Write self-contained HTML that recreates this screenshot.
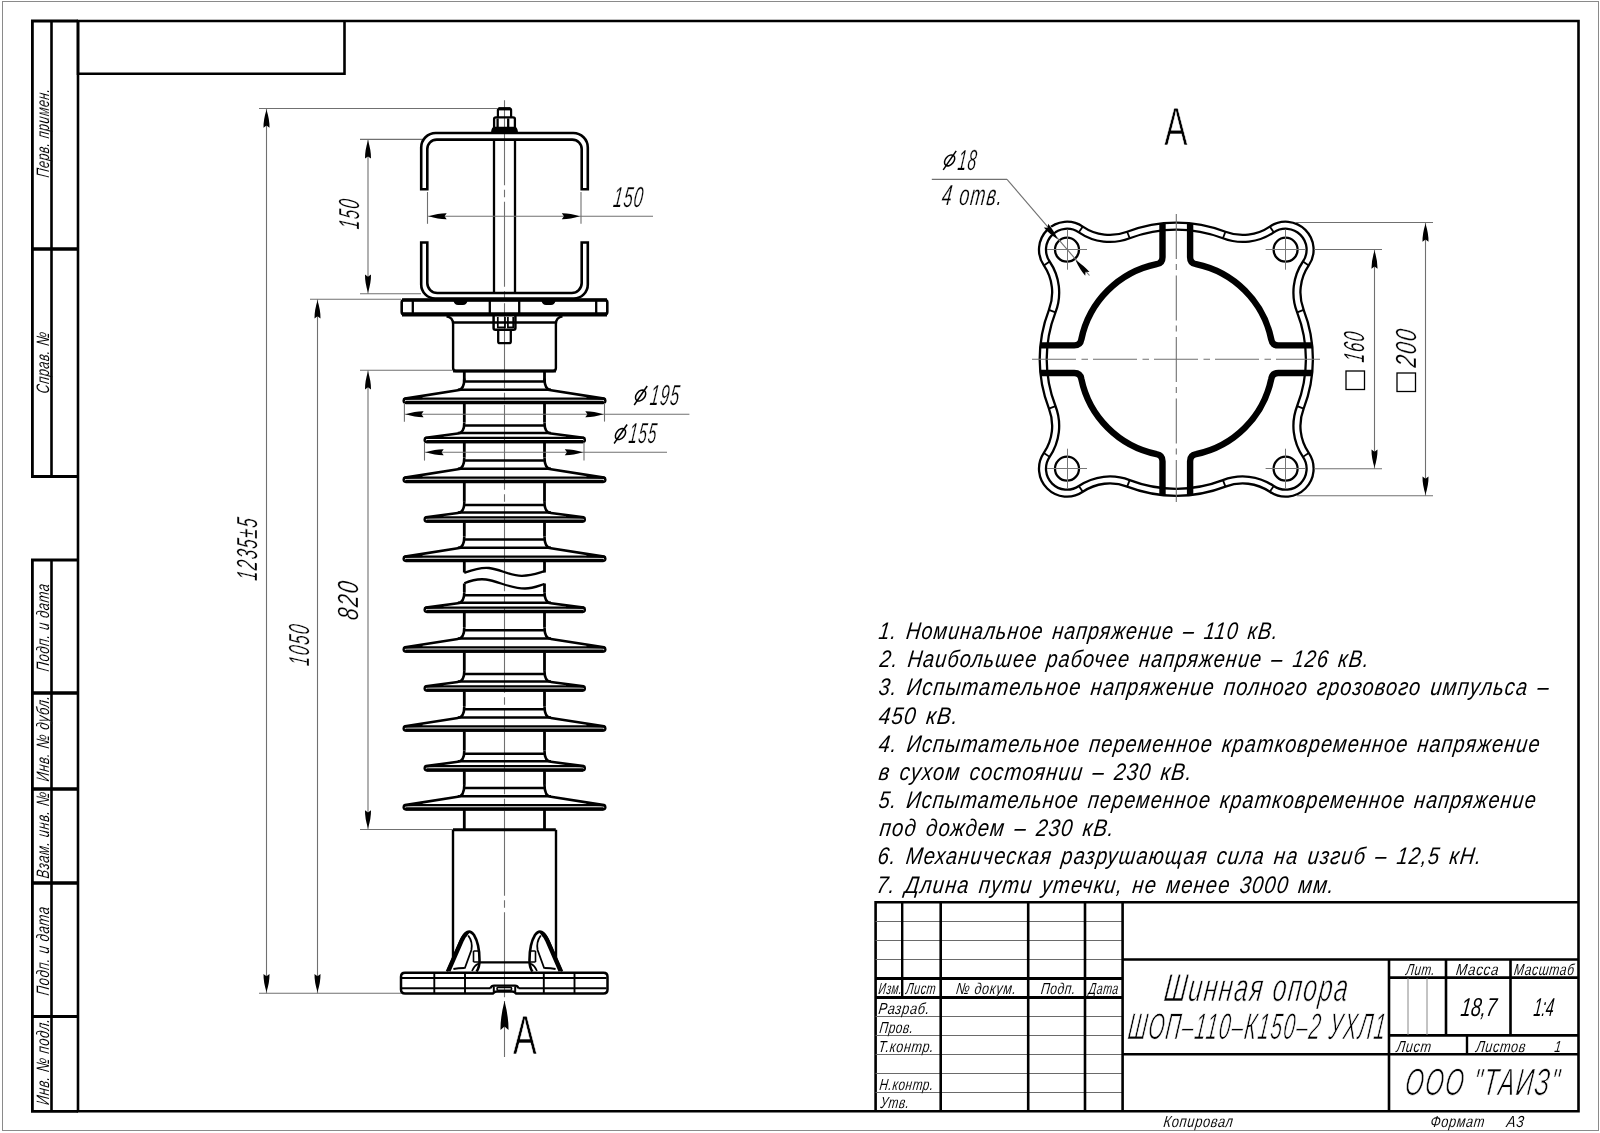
<!DOCTYPE html>
<html><head><meta charset="utf-8"><style>
html,body{margin:0;padding:0;background:#fff;width:1600px;height:1133px;overflow:hidden}
svg{display:block;will-change:transform}
text{font-family:"Liberation Sans",sans-serif;font-style:italic;fill:#000}
</style></head><body>
<svg width="1600" height="1133" viewBox="0 0 1600 1133">
<rect x="2.5" y="1.5" width="1596" height="1129" fill="none" stroke="#8a8a8a" stroke-width="1"/>
<path d="M78 21 H1578.5 V1111.3 H78 Z" stroke="#000" stroke-width="2.6" fill="none" />
<path d="M78 21 V73.8 H344.5 V21" stroke="#000" stroke-width="2.6" fill="none" />
<path d="M78 21 H32.4 V249 H78" stroke="#000" stroke-width="2.8" fill="none" />
<path d="M78 249 H32.4 V476.5 H78" stroke="#000" stroke-width="2.8" fill="none" />
<line x1="51.5" y1="21" x2="51.5" y2="476.5" stroke="#000" stroke-width="2.6" />
<path d="M78 560 H32.4 V693 H78" stroke="#000" stroke-width="2.8" fill="none" />
<path d="M78 693 H32.4 V789 H78" stroke="#000" stroke-width="2.8" fill="none" />
<path d="M78 789 H32.4 V883 H78" stroke="#000" stroke-width="2.8" fill="none" />
<path d="M78 883 H32.4 V1016.5 H78" stroke="#000" stroke-width="2.8" fill="none" />
<path d="M78 1016.5 H32.4 V1111.3 H78" stroke="#000" stroke-width="2.8" fill="none" />
<line x1="51.5" y1="560" x2="51.5" y2="1111.3" stroke="#000" stroke-width="2.6" />
<text x="48.60" y="178.00" font-size="18" text-anchor="start" textLength="89.11" lengthAdjust="spacingAndGlyphs" transform="rotate(-90 48.60 178.00) translate(48.60 178.00) skewX(-7.0) translate(-48.60 -178.00)" stroke="#fff" stroke-width="0.05"  letter-spacing="0.8">Перв. примен.</text>
<text x="48.60" y="394.00" font-size="18" text-anchor="start" textLength="62.02" lengthAdjust="spacingAndGlyphs" transform="rotate(-90 48.60 394.00) translate(48.60 394.00) skewX(-7.0) translate(-48.60 -394.00)" stroke="#fff" stroke-width="0.05"  letter-spacing="0.8">Справ. №</text>
<text x="48.60" y="672.00" font-size="18" text-anchor="start" textLength="88.01" lengthAdjust="spacingAndGlyphs" transform="rotate(-90 48.60 672.00) translate(48.60 672.00) skewX(-7.0) translate(-48.60 -672.00)" stroke="#fff" stroke-width="0.05"  letter-spacing="0.8">Подп. и дата</text>
<text x="48.60" y="782.00" font-size="18" text-anchor="start" textLength="86.11" lengthAdjust="spacingAndGlyphs" transform="rotate(-90 48.60 782.00) translate(48.60 782.00) skewX(-7.0) translate(-48.60 -782.00)" stroke="#fff" stroke-width="0.05"  letter-spacing="0.8">Инв. № дубл.</text>
<text x="48.60" y="879.00" font-size="18" text-anchor="start" textLength="87.01" lengthAdjust="spacingAndGlyphs" transform="rotate(-90 48.60 879.00) translate(48.60 879.00) skewX(-7.0) translate(-48.60 -879.00)" stroke="#fff" stroke-width="0.05"  letter-spacing="0.8">Взам. инв. №</text>
<text x="48.60" y="996.00" font-size="18" text-anchor="start" textLength="89.01" lengthAdjust="spacingAndGlyphs" transform="rotate(-90 48.60 996.00) translate(48.60 996.00) skewX(-7.0) translate(-48.60 -996.00)" stroke="#fff" stroke-width="0.05"  letter-spacing="0.8">Подп. и дата</text>
<text x="48.60" y="1105.50" font-size="18" text-anchor="start" textLength="86.62" lengthAdjust="spacingAndGlyphs" transform="rotate(-90 48.60 1105.50) translate(48.60 1105.50) skewX(-7.0) translate(-48.60 -1105.50)" stroke="#fff" stroke-width="0.05"  letter-spacing="0.8">Инв. № подл.</text>
<path d="M875.6 1111.3 V902.2 H1578.5" stroke="#000" stroke-width="2.6" fill="none" />
<line x1="875.6" y1="921.5" x2="1122.6" y2="921.5" stroke="#6a6a6a" stroke-width="1.1" />
<line x1="875.6" y1="940.5" x2="1122.6" y2="940.5" stroke="#6a6a6a" stroke-width="1.1" />
<line x1="875.6" y1="959.5" x2="1122.6" y2="959.5" stroke="#6a6a6a" stroke-width="1.1" />
<line x1="875.6" y1="978.4" x2="1122.6" y2="978.4" stroke="#000" stroke-width="3.0" />
<line x1="875.6" y1="997.5" x2="1122.6" y2="997.5" stroke="#000" stroke-width="3.0" />
<line x1="875.6" y1="1016.5" x2="1122.6" y2="1016.5" stroke="#6a6a6a" stroke-width="1.1" />
<line x1="875.6" y1="1035.5" x2="1122.6" y2="1035.5" stroke="#6a6a6a" stroke-width="1.1" />
<line x1="875.6" y1="1054.5" x2="1122.6" y2="1054.5" stroke="#6a6a6a" stroke-width="1.1" />
<line x1="875.6" y1="1073.5" x2="1122.6" y2="1073.5" stroke="#6a6a6a" stroke-width="1.1" />
<line x1="875.6" y1="1092.5" x2="1122.6" y2="1092.5" stroke="#6a6a6a" stroke-width="1.1" />
<line x1="940.7" y1="902.2" x2="940.7" y2="1111.3" stroke="#000" stroke-width="2.6" />
<line x1="1028.2" y1="902.2" x2="1028.2" y2="1111.3" stroke="#000" stroke-width="2.6" />
<line x1="1085.0" y1="902.2" x2="1085.0" y2="1111.3" stroke="#000" stroke-width="2.6" />
<line x1="1122.6" y1="902.2" x2="1122.6" y2="1111.3" stroke="#000" stroke-width="2.6" />
<line x1="902.2" y1="902.2" x2="902.2" y2="997.5" stroke="#000" stroke-width="2.4" />
<line x1="1122.6" y1="959.5" x2="1578.5" y2="959.5" stroke="#000" stroke-width="2.6" />
<line x1="1122.6" y1="1054.3" x2="1578.5" y2="1054.3" stroke="#000" stroke-width="2.6" />
<line x1="1389" y1="959.5" x2="1389" y2="1111.3" stroke="#000" stroke-width="2.6" />
<line x1="1389" y1="977.6" x2="1578.5" y2="977.6" stroke="#000" stroke-width="2.6" />
<line x1="1389" y1="1035.4" x2="1578.5" y2="1035.4" stroke="#000" stroke-width="2.6" />
<line x1="1446" y1="959.5" x2="1446" y2="1035.4" stroke="#000" stroke-width="2.6" />
<line x1="1510.5" y1="959.5" x2="1510.5" y2="1035.4" stroke="#000" stroke-width="2.6" />
<line x1="1408" y1="978" x2="1408" y2="1035" stroke="#888" stroke-width="1" />
<line x1="1427" y1="978" x2="1427" y2="1035" stroke="#888" stroke-width="1" />
<line x1="1467" y1="1035.4" x2="1467" y2="1054.3" stroke="#000" stroke-width="2.4" />
<text x="878.10" y="994.30" font-size="16" text-anchor="start" textLength="23.75" lengthAdjust="spacingAndGlyphs" transform="translate(878.10 994.30) skewX(-7.0) translate(-878.10 -994.30)" stroke="#fff" stroke-width="0.05"  letter-spacing="0.8">Изм.</text>
<text x="905.60" y="994.30" font-size="16" text-anchor="start" textLength="30.05" lengthAdjust="spacingAndGlyphs" transform="translate(905.60 994.30) skewX(-7.0) translate(-905.60 -994.30)" stroke="#fff" stroke-width="0.05"  letter-spacing="0.8">Лист</text>
<text x="955.60" y="994.30" font-size="16" text-anchor="start" textLength="60.56" lengthAdjust="spacingAndGlyphs" transform="translate(955.60 994.30) skewX(-7.0) translate(-955.60 -994.30)" stroke="#fff" stroke-width="0.05"  letter-spacing="0.8">№ докум.</text>
<text x="1040.40" y="994.30" font-size="16" text-anchor="start" textLength="35.09" lengthAdjust="spacingAndGlyphs" transform="translate(1040.40 994.30) skewX(-7.0) translate(-1040.40 -994.30)" stroke="#fff" stroke-width="0.05"  letter-spacing="0.8">Подп.</text>
<text x="1088.30" y="994.30" font-size="16" text-anchor="start" textLength="29.93" lengthAdjust="spacingAndGlyphs" transform="translate(1088.30 994.30) skewX(-7.0) translate(-1088.30 -994.30)" stroke="#fff" stroke-width="0.05"  letter-spacing="0.8">Дата</text>
<text x="878.00" y="1013.80" font-size="16" text-anchor="start" textLength="51.46" lengthAdjust="spacingAndGlyphs" transform="translate(878.00 1013.80) skewX(-7.0) translate(-878.00 -1013.80)" stroke="#fff" stroke-width="0.05"  letter-spacing="0.8">Разраб.</text>
<text x="879.00" y="1032.60" font-size="16" text-anchor="start" textLength="34.16" lengthAdjust="spacingAndGlyphs" transform="translate(879.00 1032.60) skewX(-7.0) translate(-879.00 -1032.60)" stroke="#fff" stroke-width="0.05"  letter-spacing="0.8">Пров.</text>
<text x="878.00" y="1051.90" font-size="16" text-anchor="start" textLength="55.70" lengthAdjust="spacingAndGlyphs" transform="translate(878.00 1051.90) skewX(-7.0) translate(-878.00 -1051.90)" stroke="#fff" stroke-width="0.05"  letter-spacing="0.8">Т.контр.</text>
<text x="879.00" y="1089.60" font-size="16" text-anchor="start" textLength="54.33" lengthAdjust="spacingAndGlyphs" transform="translate(879.00 1089.60) skewX(-7.0) translate(-879.00 -1089.60)" stroke="#fff" stroke-width="0.05"  letter-spacing="0.8">Н.контр.</text>
<text x="880.00" y="1108.50" font-size="16" text-anchor="start" textLength="29.12" lengthAdjust="spacingAndGlyphs" transform="translate(880.00 1108.50) skewX(-7.0) translate(-880.00 -1108.50)" stroke="#fff" stroke-width="0.05"  letter-spacing="0.8">Утв.</text>
<text x="1163.00" y="1001.50" font-size="39" text-anchor="start" textLength="185.03" lengthAdjust="spacingAndGlyphs" transform="translate(1163.00 1001.50) skewX(-7.0) translate(-1163.00 -1001.50)" stroke="#fff" stroke-width="0.75" letter-spacing="2.5">Шинная опора</text>
<text x="1127.00" y="1039.00" font-size="37" text-anchor="start" textLength="258.52" lengthAdjust="spacingAndGlyphs" transform="translate(1127.00 1039.00) skewX(-7.0) translate(-1127.00 -1039.00)" stroke="#fff" stroke-width="0.75" letter-spacing="2.5">ШОП–110–К150–2 УХЛ1</text>
<text x="1405.50" y="975.40" font-size="16" text-anchor="start" textLength="29.32" lengthAdjust="spacingAndGlyphs" transform="translate(1405.50 975.40) skewX(-7.0) translate(-1405.50 -975.40)" stroke="#fff" stroke-width="0.05"  letter-spacing="0.8">Лит.</text>
<text x="1455.50" y="975.40" font-size="16" text-anchor="start" textLength="43.15" lengthAdjust="spacingAndGlyphs" transform="translate(1455.50 975.40) skewX(-7.0) translate(-1455.50 -975.40)" stroke="#fff" stroke-width="0.05"  letter-spacing="0.8">Масса</text>
<text x="1513.50" y="975.40" font-size="16" text-anchor="start" textLength="60.54" lengthAdjust="spacingAndGlyphs" transform="translate(1513.50 975.40) skewX(-7.0) translate(-1513.50 -975.40)" stroke="#fff" stroke-width="0.05"  letter-spacing="0.8">Масштаб</text>
<text x="1460.00" y="1016.50" font-size="26" text-anchor="start" textLength="35.63" lengthAdjust="spacingAndGlyphs" transform="translate(1460.00 1016.50) skewX(-7.0) translate(-1460.00 -1016.50)" stroke="#fff" stroke-width="0.0" >18,7</text>
<text x="1533.00" y="1016.50" font-size="26" text-anchor="start" textLength="20.05" lengthAdjust="spacingAndGlyphs" transform="translate(1533.00 1016.50) skewX(-7.0) translate(-1533.00 -1016.50)" stroke="#fff" stroke-width="0.0" >1:4</text>
<text x="1396.00" y="1051.60" font-size="16" text-anchor="start" textLength="35.03" lengthAdjust="spacingAndGlyphs" transform="translate(1396.00 1051.60) skewX(-7.0) translate(-1396.00 -1051.60)" stroke="#fff" stroke-width="0.05"  letter-spacing="0.8">Лист</text>
<text x="1475.50" y="1051.60" font-size="16" text-anchor="start" textLength="50.06" lengthAdjust="spacingAndGlyphs" transform="translate(1475.50 1051.60) skewX(-7.0) translate(-1475.50 -1051.60)" stroke="#fff" stroke-width="0.05"  letter-spacing="0.8">Листов</text>
<text x="1554.00" y="1051.60" font-size="16" text-anchor="start" textLength="7.20" lengthAdjust="spacingAndGlyphs" transform="translate(1554.00 1051.60) skewX(-7.0) translate(-1554.00 -1051.60)" stroke="#fff" stroke-width="0.05"  letter-spacing="0.8">1</text>
<text x="1404.00" y="1095.40" font-size="38" text-anchor="start" textLength="155.54" lengthAdjust="spacingAndGlyphs" transform="translate(1404.00 1095.40) skewX(-7.0) translate(-1404.00 -1095.40)" stroke="#fff" stroke-width="0.75" letter-spacing="2.5">ООО "ТАИЗ"</text>
<text x="1163.00" y="1127.50" font-size="16" text-anchor="start" textLength="70.01" lengthAdjust="spacingAndGlyphs" transform="translate(1163.00 1127.50) skewX(-7.0) translate(-1163.00 -1127.50)" stroke="#fff" stroke-width="0.05"  letter-spacing="0.8">Копировал</text>
<text x="1430.00" y="1127.50" font-size="16" text-anchor="start" textLength="54.58" lengthAdjust="spacingAndGlyphs" transform="translate(1430.00 1127.50) skewX(-7.0) translate(-1430.00 -1127.50)" stroke="#fff" stroke-width="0.05"  letter-spacing="0.8">Формат</text>
<text x="1506.00" y="1127.50" font-size="16" text-anchor="start" textLength="18.06" lengthAdjust="spacingAndGlyphs" transform="translate(1506.00 1127.50) skewX(-7.0) translate(-1506.00 -1127.50)" stroke="#fff" stroke-width="0.05"  letter-spacing="0.8">А3</text>
<text x="878.00" y="639.20" font-size="24" text-anchor="start" textLength="400.04" lengthAdjust="spacingAndGlyphs" transform="translate(878.00 639.20) skewX(-7.0) translate(-878.00 -639.20)" stroke="#fff" stroke-width="0.0" word-spacing="3" letter-spacing="1.3">1. Номинальное напряжение – 110 кВ.</text>
<text x="879.00" y="667.35" font-size="24" text-anchor="start" textLength="490.02" lengthAdjust="spacingAndGlyphs" transform="translate(879.00 667.35) skewX(-7.0) translate(-879.00 -667.35)" stroke="#fff" stroke-width="0.0" word-spacing="3" letter-spacing="1.3">2. Наибольшее рабочее напряжение – 126 кВ.</text>
<text x="878.00" y="695.50" font-size="24" text-anchor="start" textLength="670.91" lengthAdjust="spacingAndGlyphs" transform="translate(878.00 695.50) skewX(-7.0) translate(-878.00 -695.50)" stroke="#fff" stroke-width="0.0" word-spacing="3" letter-spacing="1.3">3. Испытательное напряжение полного грозового импульса –</text>
<text x="878.00" y="723.65" font-size="24" text-anchor="start" textLength="80.22" lengthAdjust="spacingAndGlyphs" transform="translate(878.00 723.65) skewX(-7.0) translate(-878.00 -723.65)" stroke="#fff" stroke-width="0.0" word-spacing="3" letter-spacing="1.3">450 кВ.</text>
<text x="878.00" y="751.80" font-size="24" text-anchor="start" textLength="661.91" lengthAdjust="spacingAndGlyphs" transform="translate(878.00 751.80) skewX(-7.0) translate(-878.00 -751.80)" stroke="#fff" stroke-width="0.0" word-spacing="3" letter-spacing="1.3">4. Испытательное переменное кратковременное напряжение</text>
<text x="878.00" y="779.95" font-size="24" text-anchor="start" textLength="313.97" lengthAdjust="spacingAndGlyphs" transform="translate(878.00 779.95) skewX(-7.0) translate(-878.00 -779.95)" stroke="#fff" stroke-width="0.0" word-spacing="3" letter-spacing="1.3">в сухом состоянии – 230 кВ.</text>
<text x="878.00" y="808.10" font-size="24" text-anchor="start" textLength="658.01" lengthAdjust="spacingAndGlyphs" transform="translate(878.00 808.10) skewX(-7.0) translate(-878.00 -808.10)" stroke="#fff" stroke-width="0.0" word-spacing="3" letter-spacing="1.3">5. Испытательное переменное кратковременное напряжение</text>
<text x="879.00" y="836.25" font-size="24" text-anchor="start" textLength="235.09" lengthAdjust="spacingAndGlyphs" transform="translate(879.00 836.25) skewX(-7.0) translate(-879.00 -836.25)" stroke="#fff" stroke-width="0.0" word-spacing="3" letter-spacing="1.3">под дождем – 230 кВ.</text>
<text x="877.00" y="864.40" font-size="24" text-anchor="start" textLength="604.56" lengthAdjust="spacingAndGlyphs" transform="translate(877.00 864.40) skewX(-7.0) translate(-877.00 -864.40)" stroke="#fff" stroke-width="0.0" word-spacing="3" letter-spacing="1.3">6. Механическая разрушающая сила на изгиб – 12,5 кН.</text>
<text x="876.00" y="892.55" font-size="24" text-anchor="start" textLength="458.10" lengthAdjust="spacingAndGlyphs" transform="translate(876.00 892.55) skewX(-7.0) translate(-876.00 -892.55)" stroke="#fff" stroke-width="0.0" word-spacing="3" letter-spacing="1.3">7. Длина пути утечки, не менее 3000 мм.</text>
<line x1="504.5" y1="100.2" x2="504.5" y2="1000" stroke="#707070" stroke-width="1.1" stroke-dasharray="85 4.5 7.5 4.5"/>
<path d="M497.9 117 V110.2 Q497.9 108.7 499.5 108.7 H509.6 Q511.1 108.7 511.1 110.2 V117" stroke="#000" stroke-width="2.2" fill="none" />
<line x1="498.5" y1="108.8" x2="510.5" y2="108.8" stroke="#000" stroke-width="3.2" />
<path d="M494.1 127.5 V119 Q494.1 117.3 496 117.3 H513 Q514.9 117.3 514.9 119 V127.5" stroke="#000" stroke-width="2.3" fill="none" />
<line x1="497.6" y1="118.4" x2="497.6" y2="127" stroke="#000" stroke-width="2.3" />
<line x1="508.2" y1="118.4" x2="508.2" y2="127" stroke="#000" stroke-width="2.3" />
<path d="M491 133.6 Q491 128.6 493.5 126.8 H515.5 Q518 128.6 518 133.6 Z" fill="#000"/>
<path d="M421.2 189.3 V147.5 A14.5 14.5 0 0 1 435.7 133 H573.3 A14.5 14.5 0 0 1 587.8 147.5 V189.3 H581.7 V149 A9.4 9.4 0 0 0 572.3 139.6 H436.7 A9.4 9.4 0 0 0 427.3 149 V189.3 Z" stroke="#000" stroke-width="2.6" fill="none" />
<path d="M421.2 242.5 V284.5 A14 14 0 0 0 435.2 298.5 H573.8 A14 14 0 0 0 587.8 284.5 V242.5 H581.7 V283 A10 10 0 0 1 571.7 293 H437.3 A10 10 0 0 1 427.3 283 V242.5 Z" stroke="#000" stroke-width="2.6" fill="none" />
<line x1="494" y1="139.4" x2="494" y2="293" stroke="#000" stroke-width="2.3" />
<line x1="515" y1="139.4" x2="515" y2="293" stroke="#000" stroke-width="2.3" />
<path d="M404 300 H605 Q607.3 300 607.3 302.3 V312.1 Q607.3 314.4 605 314.4 H404 Q401.7 314.4 401.7 312.1 V302.3 Q401.7 300 404 300 Z" stroke="#000" stroke-width="2.6" fill="none" />
<line x1="402" y1="300" x2="607" y2="300" stroke="#000" stroke-width="3.6" />
<line x1="402" y1="314.4" x2="607" y2="314.4" stroke="#000" stroke-width="4.2" />
<line x1="412.8" y1="301" x2="412.8" y2="313" stroke="#000" stroke-width="2.3" />
<line x1="596.2" y1="301" x2="596.2" y2="313" stroke="#000" stroke-width="2.3" />
<line x1="489.8" y1="301" x2="489.8" y2="313" stroke="#000" stroke-width="2.3" />
<line x1="519.2" y1="301" x2="519.2" y2="313" stroke="#000" stroke-width="2.3" />
<path d="M453.5 301 Q454.5 305 458 305 H463 Q466.5 305 467.5 301 Z" fill="#000"/>
<path d="M541.5 301 Q542.5 305 546 305 H551 Q554.5 305 555.5 301 Z" fill="#000"/>
<path d="M493.6 316 V328 Q493.6 329.8 495.4 329.8 H513.6 Q515.4 329.8 515.4 328 V316" stroke="#000" stroke-width="2.5" fill="none" />
<path d="M497.8 317 V327.4 H505 V317" stroke="#000" stroke-width="1.7" fill="none" />
<path d="M507.9 317 V327.4 H513.2 V317" stroke="#000" stroke-width="1.7" fill="none" />
<path d="M498.2 329.8 V341.5 Q498.2 343.2 500 343.2 H509 Q510.8 343.2 510.8 341.5 V329.8" stroke="#000" stroke-width="2.3" fill="none" />
<path d="M446.5 316.4 Q453.1 317.5 453.1 324 V368 Q453.1 371 456 371 H553 Q555.9 371 555.9 368 V324 Q555.9 317.5 562.5 316.4" stroke="#000" stroke-width="2.4" fill="none" />
<line x1="453.1" y1="322.5" x2="555.9" y2="322.5" stroke="#000" stroke-width="2.3" />
<line x1="453.1" y1="371" x2="555.9" y2="371" stroke="#000" stroke-width="3.2" />
<path d="M464.3 378.45 Q464.3 389.7 457.8 390.3 L405.0 398.59999999999997 Q403.5 399.0 403.8 401.2 Q404.1 402.8 406.5 402.8 H602.5 Q604.9 402.8 605.2 401.2 Q605.5 399.0 604.0 398.59999999999997 L551.0 390.3 Q544.5 389.7 544.5 378.45" stroke="#000" stroke-width="2.6" fill="none" />
<line x1="464.3" y1="381.45" x2="544.5" y2="381.45" stroke="#000" stroke-width="2.5" />
<line x1="457.8" y1="389.7" x2="551.0" y2="389.7" stroke="#000" stroke-width="2.5" />
<path d="M404.5 399.0 L422.5 396.2 L422.5 399.2 L404.5 399.8 Z" fill="#000"/>
<path d="M604.5 399.0 L586.5 396.2 L586.5 399.2 L604.5 399.8 Z" fill="#000"/>
<line x1="404.5" y1="398.7" x2="604.5" y2="398.7" stroke="#000" stroke-width="2.3" />
<line x1="405.5" y1="402.5" x2="603.5" y2="402.5" stroke="#000" stroke-width="3.3" />
<path d="M464.3 422.4 Q464.3 432.9 457.8 433.5 L426.0 437.79999999999995 Q424.5 438.2 424.8 440.4 Q425.1 442.0 427.5 442.0 H582.0 Q584.4 442.0 584.7 440.4 Q585.0 438.2 583.5 437.79999999999995 L551.0 433.5 Q544.5 432.9 544.5 422.4" stroke="#000" stroke-width="2.6" fill="none" />
<line x1="464.3" y1="425.4" x2="544.5" y2="425.4" stroke="#000" stroke-width="2.5" />
<line x1="457.8" y1="432.9" x2="551.0" y2="432.9" stroke="#000" stroke-width="2.5" />
<path d="M425.5 438.2 L443.5 435.4 L443.5 438.4 L425.5 439.0 Z" fill="#000"/>
<path d="M584.0 438.2 L566.0 435.4 L566.0 438.4 L584.0 439.0 Z" fill="#000"/>
<line x1="425.5" y1="437.9" x2="584.0" y2="437.9" stroke="#000" stroke-width="2.3" />
<line x1="426.5" y1="441.7" x2="583.0" y2="441.7" stroke="#000" stroke-width="3.3" />
<path d="M464.3 457.45 Q464.3 468.7 457.8 469.3 L405.0 477.59999999999997 Q403.5 478.0 403.8 480.2 Q404.1 481.8 406.5 481.8 H602.5 Q604.9 481.8 605.2 480.2 Q605.5 478.0 604.0 477.59999999999997 L551.0 469.3 Q544.5 468.7 544.5 457.45" stroke="#000" stroke-width="2.6" fill="none" />
<line x1="464.3" y1="460.45" x2="544.5" y2="460.45" stroke="#000" stroke-width="2.5" />
<line x1="457.8" y1="468.7" x2="551.0" y2="468.7" stroke="#000" stroke-width="2.5" />
<path d="M404.5 478.0 L422.5 475.2 L422.5 478.2 L404.5 478.8 Z" fill="#000"/>
<path d="M604.5 478.0 L586.5 475.2 L586.5 478.2 L604.5 478.8 Z" fill="#000"/>
<line x1="404.5" y1="477.7" x2="604.5" y2="477.7" stroke="#000" stroke-width="2.3" />
<line x1="405.5" y1="481.5" x2="603.5" y2="481.5" stroke="#000" stroke-width="3.3" />
<path d="M464.3 501.9 Q464.3 512.4 457.8 513.0 L426.0 517.3 Q424.5 517.6999999999999 424.8 519.9 Q425.1 521.5 427.5 521.5 H582.0 Q584.4 521.5 584.7 519.9 Q585.0 517.6999999999999 583.5 517.3 L551.0 513.0 Q544.5 512.4 544.5 501.9" stroke="#000" stroke-width="2.6" fill="none" />
<line x1="464.3" y1="504.9" x2="544.5" y2="504.9" stroke="#000" stroke-width="2.5" />
<line x1="457.8" y1="512.4" x2="551.0" y2="512.4" stroke="#000" stroke-width="2.5" />
<path d="M425.5 517.6999999999999 L443.5 514.9 L443.5 517.9 L425.5 518.5 Z" fill="#000"/>
<path d="M584.0 517.6999999999999 L566.0 514.9 L566.0 517.9 L584.0 518.5 Z" fill="#000"/>
<line x1="425.5" y1="517.4" x2="584.0" y2="517.4" stroke="#000" stroke-width="2.3" />
<line x1="426.5" y1="521.1999999999999" x2="583.0" y2="521.1999999999999" stroke="#000" stroke-width="3.3" />
<path d="M464.3 536.45 Q464.3 547.7 457.8 548.3000000000001 L405.0 556.6 Q403.5 557.0 403.8 559.2 Q404.1 560.8000000000001 406.5 560.8000000000001 H602.5 Q604.9 560.8000000000001 605.2 559.2 Q605.5 557.0 604.0 556.6 L551.0 548.3000000000001 Q544.5 547.7 544.5 536.45" stroke="#000" stroke-width="2.6" fill="none" />
<line x1="464.3" y1="539.45" x2="544.5" y2="539.45" stroke="#000" stroke-width="2.5" />
<line x1="457.8" y1="547.7" x2="551.0" y2="547.7" stroke="#000" stroke-width="2.5" />
<path d="M404.5 557.0 L422.5 554.2 L422.5 557.2 L404.5 557.8000000000001 Z" fill="#000"/>
<path d="M604.5 557.0 L586.5 554.2 L586.5 557.2 L604.5 557.8000000000001 Z" fill="#000"/>
<line x1="404.5" y1="556.7" x2="604.5" y2="556.7" stroke="#000" stroke-width="2.3" />
<line x1="405.5" y1="560.5" x2="603.5" y2="560.5" stroke="#000" stroke-width="3.3" />
<path d="M464.3 592.2 Q464.3 602.7 457.8 603.3000000000001 L426.0 607.6 Q424.5 608.0 424.8 610.2 Q425.1 611.8000000000001 427.5 611.8000000000001 H582.0 Q584.4 611.8000000000001 584.7 610.2 Q585.0 608.0 583.5 607.6 L551.0 603.3000000000001 Q544.5 602.7 544.5 592.2" stroke="#000" stroke-width="2.6" fill="none" />
<line x1="464.3" y1="595.2" x2="544.5" y2="595.2" stroke="#000" stroke-width="2.5" />
<line x1="457.8" y1="602.7" x2="551.0" y2="602.7" stroke="#000" stroke-width="2.5" />
<path d="M425.5 608.0 L443.5 605.2 L443.5 608.2 L425.5 608.8000000000001 Z" fill="#000"/>
<path d="M584.0 608.0 L566.0 605.2 L566.0 608.2 L584.0 608.8000000000001 Z" fill="#000"/>
<line x1="425.5" y1="607.7" x2="584.0" y2="607.7" stroke="#000" stroke-width="2.3" />
<line x1="426.5" y1="611.5" x2="583.0" y2="611.5" stroke="#000" stroke-width="3.3" />
<path d="M464.3 627.15 Q464.3 638.4 457.8 639.0 L405.0 647.3 Q403.5 647.6999999999999 403.8 649.9 Q404.1 651.5 406.5 651.5 H602.5 Q604.9 651.5 605.2 649.9 Q605.5 647.6999999999999 604.0 647.3 L551.0 639.0 Q544.5 638.4 544.5 627.15" stroke="#000" stroke-width="2.6" fill="none" />
<line x1="464.3" y1="630.15" x2="544.5" y2="630.15" stroke="#000" stroke-width="2.5" />
<line x1="457.8" y1="638.4" x2="551.0" y2="638.4" stroke="#000" stroke-width="2.5" />
<path d="M404.5 647.6999999999999 L422.5 644.9 L422.5 647.9 L404.5 648.5 Z" fill="#000"/>
<path d="M604.5 647.6999999999999 L586.5 644.9 L586.5 647.9 L604.5 648.5 Z" fill="#000"/>
<line x1="404.5" y1="647.4" x2="604.5" y2="647.4" stroke="#000" stroke-width="2.3" />
<line x1="405.5" y1="651.1999999999999" x2="603.5" y2="651.1999999999999" stroke="#000" stroke-width="3.3" />
<path d="M464.3 670.9 Q464.3 681.4 457.8 682.0 L426.0 686.3 Q424.5 686.6999999999999 424.8 688.9 Q425.1 690.5 427.5 690.5 H582.0 Q584.4 690.5 584.7 688.9 Q585.0 686.6999999999999 583.5 686.3 L551.0 682.0 Q544.5 681.4 544.5 670.9" stroke="#000" stroke-width="2.6" fill="none" />
<line x1="464.3" y1="673.9" x2="544.5" y2="673.9" stroke="#000" stroke-width="2.5" />
<line x1="457.8" y1="681.4" x2="551.0" y2="681.4" stroke="#000" stroke-width="2.5" />
<path d="M425.5 686.6999999999999 L443.5 683.9 L443.5 686.9 L425.5 687.5 Z" fill="#000"/>
<path d="M584.0 686.6999999999999 L566.0 683.9 L566.0 686.9 L584.0 687.5 Z" fill="#000"/>
<line x1="425.5" y1="686.4" x2="584.0" y2="686.4" stroke="#000" stroke-width="2.3" />
<line x1="426.5" y1="690.1999999999999" x2="583.0" y2="690.1999999999999" stroke="#000" stroke-width="3.3" />
<path d="M464.3 706.15 Q464.3 717.4 457.8 718.0 L405.0 726.3 Q403.5 726.6999999999999 403.8 728.9 Q404.1 730.5 406.5 730.5 H602.5 Q604.9 730.5 605.2 728.9 Q605.5 726.6999999999999 604.0 726.3 L551.0 718.0 Q544.5 717.4 544.5 706.15" stroke="#000" stroke-width="2.6" fill="none" />
<line x1="464.3" y1="709.15" x2="544.5" y2="709.15" stroke="#000" stroke-width="2.5" />
<line x1="457.8" y1="717.4" x2="551.0" y2="717.4" stroke="#000" stroke-width="2.5" />
<path d="M404.5 726.6999999999999 L422.5 723.9 L422.5 726.9 L404.5 727.5 Z" fill="#000"/>
<path d="M604.5 726.6999999999999 L586.5 723.9 L586.5 726.9 L604.5 727.5 Z" fill="#000"/>
<line x1="404.5" y1="726.4" x2="604.5" y2="726.4" stroke="#000" stroke-width="2.3" />
<line x1="405.5" y1="730.1999999999999" x2="603.5" y2="730.1999999999999" stroke="#000" stroke-width="3.3" />
<path d="M464.3 750.7 Q464.3 761.2 457.8 761.8000000000001 L426.0 766.1 Q424.5 766.5 424.8 768.7 Q425.1 770.3000000000001 427.5 770.3000000000001 H582.0 Q584.4 770.3000000000001 584.7 768.7 Q585.0 766.5 583.5 766.1 L551.0 761.8000000000001 Q544.5 761.2 544.5 750.7" stroke="#000" stroke-width="2.6" fill="none" />
<line x1="464.3" y1="753.7" x2="544.5" y2="753.7" stroke="#000" stroke-width="2.5" />
<line x1="457.8" y1="761.2" x2="551.0" y2="761.2" stroke="#000" stroke-width="2.5" />
<path d="M425.5 766.5 L443.5 763.7 L443.5 766.7 L425.5 767.3000000000001 Z" fill="#000"/>
<path d="M584.0 766.5 L566.0 763.7 L566.0 766.7 L584.0 767.3000000000001 Z" fill="#000"/>
<line x1="425.5" y1="766.2" x2="584.0" y2="766.2" stroke="#000" stroke-width="2.3" />
<line x1="426.5" y1="770.0" x2="583.0" y2="770.0" stroke="#000" stroke-width="3.3" />
<path d="M464.3 784.95 Q464.3 796.2 457.8 796.8000000000001 L405.0 805.1 Q403.5 805.5 403.8 807.7 Q404.1 809.3000000000001 406.5 809.3000000000001 H602.5 Q604.9 809.3000000000001 605.2 807.7 Q605.5 805.5 604.0 805.1 L551.0 796.8000000000001 Q544.5 796.2 544.5 784.95" stroke="#000" stroke-width="2.6" fill="none" />
<line x1="464.3" y1="787.95" x2="544.5" y2="787.95" stroke="#000" stroke-width="2.5" />
<line x1="457.8" y1="796.2" x2="551.0" y2="796.2" stroke="#000" stroke-width="2.5" />
<path d="M404.5 805.5 L422.5 802.7 L422.5 805.7 L404.5 806.3000000000001 Z" fill="#000"/>
<path d="M604.5 805.5 L586.5 802.7 L586.5 805.7 L604.5 806.3000000000001 Z" fill="#000"/>
<line x1="404.5" y1="805.2" x2="604.5" y2="805.2" stroke="#000" stroke-width="2.3" />
<line x1="405.5" y1="809.0" x2="603.5" y2="809.0" stroke="#000" stroke-width="3.3" />
<line x1="464.3" y1="371" x2="464.3" y2="381.5" stroke="#000" stroke-width="2.8" />
<line x1="544.5" y1="371" x2="544.5" y2="381.5" stroke="#000" stroke-width="2.8" />
<line x1="464.3" y1="403.7" x2="464.3" y2="422.4" stroke="#000" stroke-width="2.8" />
<line x1="544.5" y1="403.7" x2="544.5" y2="422.4" stroke="#000" stroke-width="2.8" />
<line x1="464.3" y1="442.9" x2="464.3" y2="457.45" stroke="#000" stroke-width="2.8" />
<line x1="544.5" y1="442.9" x2="544.5" y2="457.45" stroke="#000" stroke-width="2.8" />
<line x1="464.3" y1="482.7" x2="464.3" y2="501.9" stroke="#000" stroke-width="2.8" />
<line x1="544.5" y1="482.7" x2="544.5" y2="501.9" stroke="#000" stroke-width="2.8" />
<line x1="464.3" y1="522.4" x2="464.3" y2="536.45" stroke="#000" stroke-width="2.8" />
<line x1="544.5" y1="522.4" x2="544.5" y2="536.45" stroke="#000" stroke-width="2.8" />
<line x1="464.3" y1="561.7" x2="464.3" y2="572.5" stroke="#000" stroke-width="2.8" />
<line x1="544.5" y1="561.7" x2="544.5" y2="572.5" stroke="#000" stroke-width="2.8" />
<line x1="464.3" y1="583.5" x2="464.3" y2="592.2" stroke="#000" stroke-width="2.8" />
<line x1="544.5" y1="583.5" x2="544.5" y2="592.2" stroke="#000" stroke-width="2.8" />
<line x1="464.3" y1="612.7" x2="464.3" y2="627.15" stroke="#000" stroke-width="2.8" />
<line x1="544.5" y1="612.7" x2="544.5" y2="627.15" stroke="#000" stroke-width="2.8" />
<line x1="464.3" y1="652.4" x2="464.3" y2="670.9" stroke="#000" stroke-width="2.8" />
<line x1="544.5" y1="652.4" x2="544.5" y2="670.9" stroke="#000" stroke-width="2.8" />
<line x1="464.3" y1="691.4" x2="464.3" y2="706.15" stroke="#000" stroke-width="2.8" />
<line x1="544.5" y1="691.4" x2="544.5" y2="706.15" stroke="#000" stroke-width="2.8" />
<line x1="464.3" y1="731.4" x2="464.3" y2="750.7" stroke="#000" stroke-width="2.8" />
<line x1="544.5" y1="731.4" x2="544.5" y2="750.7" stroke="#000" stroke-width="2.8" />
<line x1="464.3" y1="771.2" x2="464.3" y2="784.95" stroke="#000" stroke-width="2.8" />
<line x1="544.5" y1="771.2" x2="544.5" y2="784.95" stroke="#000" stroke-width="2.8" />
<line x1="464.3" y1="809.5" x2="464.3" y2="831" stroke="#000" stroke-width="2.8" />
<line x1="544.5" y1="809.5" x2="544.5" y2="831" stroke="#000" stroke-width="2.8" />
<path d="M464.3 572.8 C472 570 480 567 489 568 C500 569 510 576 522 575.8 C532 575.5 538 573 544.5 571.2" stroke="#000" stroke-width="2.3" fill="none" />
<path d="M464.3 583.3 C472 580 478 578.5 486 579.5 C498 581 510 588.5 525 588.5 C533 588.5 538 586 544.5 584" stroke="#000" stroke-width="2.3" fill="none" />
<path d="M447 971.5 L460.5 941 Q467.5 926 474 935 Q479.5 944 479.5 960 Q479.5 968 476.5 971.5" stroke="#000" stroke-width="2.6" fill="none" />
<path d="M448.5 971 L462 940 Q466 932 468.5 934" stroke="#000" stroke-width="4.2" fill="none" />
<path d="M468.2 935.5 Q473 942 471.4 950 L464.7 968.5" stroke="#000" stroke-width="1.8" fill="none" />
<path d="M453.4 969 Q458 968.2 464.7 968" stroke="#000" stroke-width="1.8" fill="none" />
<path d="M473.5 951 H478.5 M473.5 962 H478.5 M473.5 951 V962" stroke="#000" stroke-width="1.6" fill="none" />
<path d="M478 963.8 Q474 966 472 971" stroke="#000" stroke-width="1.6" fill="none" />
<path d="M562.0 971.5 L548.5 941 Q541.5 926 535.0 935 Q529.5 944 529.5 960 Q529.5 968 532.5 971.5" stroke="#000" stroke-width="2.6" fill="none" />
<path d="M560.5 971 L547.0 940 Q543.0 932 540.5 934" stroke="#000" stroke-width="4.2" fill="none" />
<path d="M540.8 935.5 Q536.0 942 537.6 950 L544.3 968.5" stroke="#000" stroke-width="1.8" fill="none" />
<path d="M555.6 969 Q551.0 968.2 544.3 968" stroke="#000" stroke-width="1.8" fill="none" />
<path d="M535.5 951 H530.5 M535.5 962 H530.5 M535.5 951 V962" stroke="#000" stroke-width="1.6" fill="none" />
<path d="M531.0 963.8 Q535.0 966 537.0 971" stroke="#000" stroke-width="1.6" fill="none" />
<line x1="453" y1="829.8" x2="555.8" y2="829.8" stroke="#000" stroke-width="3" />
<line x1="453" y1="829.8" x2="453" y2="961" stroke="#000" stroke-width="2.4" />
<line x1="556" y1="829.8" x2="556" y2="961" stroke="#000" stroke-width="2.4" />
<line x1="479.5" y1="962.3" x2="529.5" y2="962.3" stroke="#000" stroke-width="2.2" />
<path d="M405 972.8 H603.5 Q607.5 972.8 607.5 976.8 V989.4 Q607.5 993.4 603.5 993.4 H516 Q514 991.6 512 991.6 H497 Q495 991.6 493 993.4 H405 Q401 993.4 401 989.4 V976.8 Q401 972.8 405 972.8 Z" stroke="#000" stroke-width="2.5" fill="none" />
<line x1="402" y1="977.9" x2="606.5" y2="977.9" stroke="#000" stroke-width="2.0" />
<line x1="402" y1="988.2" x2="490.5" y2="988.2" stroke="#000" stroke-width="2.0" />
<line x1="518.5" y1="988.2" x2="606.5" y2="988.2" stroke="#000" stroke-width="2.0" />
<path d="M490.3 988.4 Q491.5 985.6 494 985.6 H515 Q517.5 985.6 518.7 988.4" stroke="#000" stroke-width="2.3" fill="none" />
<line x1="493.8" y1="986.5" x2="493.8" y2="992" stroke="#000" stroke-width="2.0" />
<line x1="515.2" y1="986.5" x2="515.2" y2="992" stroke="#000" stroke-width="2.0" />
<rect x="497" y="987.4" width="14.6" height="2.8" rx="1.2" fill="none" stroke="#000" stroke-width="1.6"/>
<line x1="434.3" y1="973.5" x2="434.3" y2="993" stroke="#000" stroke-width="1.9" />
<line x1="465" y1="973.5" x2="465" y2="993" stroke="#000" stroke-width="1.9" />
<line x1="543.8" y1="973.5" x2="543.8" y2="993" stroke="#000" stroke-width="1.9" />
<line x1="574.5" y1="973.5" x2="574.5" y2="993" stroke="#000" stroke-width="1.9" />
<line x1="259" y1="108.5" x2="497.5" y2="108.5" stroke="#707070" stroke-width="1.1"/>
<line x1="259" y1="993.3" x2="401" y2="993.3" stroke="#707070" stroke-width="1.1"/>
<line x1="266.5" y1="108.5" x2="266.5" y2="993.3" stroke="#707070" stroke-width="1.1"/>
<path d="M266.50 109.70 Q269.65 119.60 269.50 127.70 L266.50 125.54 L263.50 127.70 Q263.35 119.60 266.50 109.70 Z" fill="#000"/>
<path d="M266.50 992.10 Q263.35 982.20 263.50 974.10 L266.50 976.26 L269.50 974.10 Q269.65 982.20 266.50 992.10 Z" fill="#000"/>
<text x="257.40" y="581.20" font-size="29" text-anchor="start" textLength="63.26" lengthAdjust="spacingAndGlyphs" transform="rotate(-90 257.40 581.20) translate(257.40 581.20) skewX(-7.0) translate(-257.40 -581.20)" stroke="#fff" stroke-width="0.25"  letter-spacing="2.0">1235±5</text>
<line x1="310" y1="299.3" x2="401" y2="299.3" stroke="#707070" stroke-width="1.1"/>
<line x1="317.5" y1="299.3" x2="317.5" y2="993.3" stroke="#707070" stroke-width="1.1"/>
<path d="M317.50 300.50 Q320.65 310.40 320.50 318.50 L317.50 316.34 L314.50 318.50 Q314.35 310.40 317.50 300.50 Z" fill="#000"/>
<path d="M317.50 992.10 Q314.35 982.20 314.50 974.10 L317.50 976.26 L320.50 974.10 Q320.65 982.20 317.50 992.10 Z" fill="#000"/>
<text x="309.00" y="666.40" font-size="29" text-anchor="start" textLength="41.92" lengthAdjust="spacingAndGlyphs" transform="rotate(-90 309.00 666.40) translate(309.00 666.40) skewX(-7.0) translate(-309.00 -666.40)" stroke="#fff" stroke-width="0.25"  letter-spacing="2.0">1050</text>
<line x1="360" y1="139.4" x2="422" y2="139.4" stroke="#707070" stroke-width="1.1"/>
<line x1="360" y1="293.8" x2="421" y2="293.8" stroke="#707070" stroke-width="1.1"/>
<line x1="368" y1="139.4" x2="368" y2="293.8" stroke="#707070" stroke-width="1.1"/>
<path d="M368.00 140.60 Q371.15 150.50 371.00 158.60 L368.00 156.44 L365.00 158.60 Q364.85 150.50 368.00 140.60 Z" fill="#000"/>
<path d="M368.00 292.60 Q364.85 282.70 365.00 274.60 L368.00 276.76 L371.00 274.60 Q371.15 282.70 368.00 292.60 Z" fill="#000"/>
<text x="358.75" y="229.80" font-size="29" text-anchor="start" textLength="30.36" lengthAdjust="spacingAndGlyphs" transform="rotate(-90 358.75 229.80) translate(358.75 229.80) skewX(-7.0) translate(-358.75 -229.80)" stroke="#fff" stroke-width="0.25"  letter-spacing="2.0">150</text>
<line x1="360" y1="370.2" x2="452" y2="370.2" stroke="#707070" stroke-width="1.1"/>
<line x1="360" y1="829.5" x2="453" y2="829.5" stroke="#707070" stroke-width="1.1"/>
<line x1="368" y1="370.2" x2="368" y2="829.5" stroke="#707070" stroke-width="1.1"/>
<path d="M368.00 371.40 Q371.15 381.30 371.00 389.40 L368.00 387.24 L365.00 389.40 Q364.85 381.30 368.00 371.40 Z" fill="#000"/>
<path d="M368.00 828.30 Q364.85 818.40 365.00 810.30 L368.00 812.46 L371.00 810.30 Q371.15 818.40 368.00 828.30 Z" fill="#000"/>
<text x="358.50" y="620.80" font-size="29" text-anchor="start" textLength="39.73" lengthAdjust="spacingAndGlyphs" transform="rotate(-90 358.50 620.80) translate(358.50 620.80) skewX(-7.0) translate(-358.50 -620.80)" stroke="#fff" stroke-width="0.25"  letter-spacing="2.0">820</text>
<line x1="427.5" y1="192" x2="427.5" y2="223.8" stroke="#707070" stroke-width="1.1"/>
<line x1="581" y1="192" x2="581" y2="223.8" stroke="#707070" stroke-width="1.1"/>
<line x1="427.5" y1="216.3" x2="653" y2="216.3" stroke="#707070" stroke-width="1.1"/>
<path d="M428.70 216.30 Q438.60 213.15 446.70 213.30 L444.54 216.30 L446.70 219.30 Q438.60 219.45 428.70 216.30 Z" fill="#000"/>
<path d="M579.80 216.30 Q569.90 219.45 561.80 219.30 L563.96 216.30 L561.80 213.30 Q569.90 213.15 579.80 216.30 Z" fill="#000"/>
<text x="612.40" y="206.70" font-size="29" text-anchor="start" textLength="30.70" lengthAdjust="spacingAndGlyphs" transform="translate(612.40 206.70) skewX(-7.0) translate(-612.40 -206.70)" stroke="#fff" stroke-width="0.25"  letter-spacing="2.0">150</text>
<line x1="404.4" y1="403" x2="404.4" y2="421.8" stroke="#707070" stroke-width="1.1"/>
<line x1="604.5" y1="403" x2="604.5" y2="421.6" stroke="#707070" stroke-width="1.1"/>
<line x1="404.4" y1="414.3" x2="689.4" y2="414.3" stroke="#707070" stroke-width="1.1"/>
<path d="M405.60 414.30 Q415.50 411.15 423.60 411.30 L421.44 414.30 L423.60 417.30 Q415.50 417.45 405.60 414.30 Z" fill="#000"/>
<path d="M603.30 414.30 Q593.40 417.45 585.30 417.30 L587.46 414.30 L585.30 411.30 Q593.40 411.15 603.30 414.30 Z" fill="#000"/>
<path d="M634.20 405.00 L647.20 386.00" stroke="#000" stroke-width="1.5"/>
<ellipse cx="640.60" cy="395.60" rx="4.2" ry="6.2" transform="rotate(40 640.60 395.60)" fill="none" stroke="#000" stroke-width="1.5"/>
<text x="649.20" y="405.00" font-size="29" text-anchor="start" textLength="30.22" lengthAdjust="spacingAndGlyphs" transform="translate(649.20 405.00) skewX(-7.0) translate(-649.20 -405.00)" stroke="#fff" stroke-width="0.25"  letter-spacing="2.0">195</text>
<line x1="424.5" y1="442" x2="424.5" y2="460.6" stroke="#707070" stroke-width="1.1"/>
<line x1="584" y1="442" x2="584" y2="460.6" stroke="#707070" stroke-width="1.1"/>
<line x1="424.5" y1="452.2" x2="667" y2="452.2" stroke="#707070" stroke-width="1.1"/>
<path d="M425.70 452.20 Q435.60 449.05 443.70 449.20 L441.54 452.20 L443.70 455.20 Q435.60 455.35 425.70 452.20 Z" fill="#000"/>
<path d="M582.80 452.20 Q572.90 455.35 564.80 455.20 L566.96 452.20 L564.80 449.20 Q572.90 449.05 582.80 452.20 Z" fill="#000"/>
<path d="M614.10 443.50 L627.10 424.50" stroke="#000" stroke-width="1.5"/>
<ellipse cx="620.50" cy="434.10" rx="4.2" ry="6.2" transform="rotate(40 620.50 434.10)" fill="none" stroke="#000" stroke-width="1.5"/>
<text x="628.00" y="443.50" font-size="29" text-anchor="start" textLength="28.39" lengthAdjust="spacingAndGlyphs" transform="translate(628.00 443.50) skewX(-7.0) translate(-628.00 -443.50)" stroke="#fff" stroke-width="0.25"  letter-spacing="2.0">155</text>
<line x1="504.5" y1="1001" x2="504.5" y2="1057" stroke="#707070" stroke-width="1.1"/>
<path d="M504.50 1001.00 Q508.70 1016.95 508.50 1030.00 L504.50 1026.52 L500.50 1030.00 Q500.30 1016.95 504.50 1001.00 Z" fill="#000"/>
<text x="513.10" y="1053.60" font-size="55" text-anchor="start" textLength="23.71" lengthAdjust="spacingAndGlyphs" stroke="#fff" stroke-width="0.75" style="font-style:normal">A</text>
<path d="M1176.30 222.60 A136.6 136.6 0 0 1 1225.44 231.75 A48 48 0 0 0 1269.80 226.58 A28.0 28.0 0 0 1 1308.74 265.46 A48 48 0 0 0 1303.66 309.83 A136.6 136.6 0 0 1 1303.66 408.57 A48 48 0 0 0 1308.74 452.94 A28.0 28.0 0 0 1 1269.80 491.82 A48 48 0 0 0 1225.44 486.65 A136.6 136.6 0 0 1 1127.16 486.65 A48 48 0 0 0 1082.80 491.82 A28.0 28.0 0 0 1 1043.86 452.94 A48 48 0 0 0 1048.94 408.57 A136.6 136.6 0 0 1 1048.94 309.83 A48 48 0 0 0 1043.86 265.46 A28.0 28.0 0 0 1 1082.80 226.58 A48 48 0 0 0 1127.16 231.75 A136.6 136.6 0 0 1 1176.30 222.60 Z" stroke="#000" stroke-width="2.3" fill="none" />
<path d="M1176.30 229.60 A129.6 129.6 0 0 1 1222.92 238.28 A55 55 0 0 0 1273.75 232.36 A21.0 21.0 0 0 1 1302.96 261.52 A55 55 0 0 0 1297.14 312.36 A129.6 129.6 0 0 1 1297.14 406.04 A55 55 0 0 0 1302.96 456.88 A21.0 21.0 0 0 1 1273.75 486.04 A55 55 0 0 0 1222.92 480.12 A129.6 129.6 0 0 1 1129.68 480.12 A55 55 0 0 0 1078.85 486.04 A21.0 21.0 0 0 1 1049.64 456.88 A55 55 0 0 0 1055.46 406.04 A129.6 129.6 0 0 1 1055.46 312.36 A55 55 0 0 0 1049.64 261.52 A21.0 21.0 0 0 1 1078.85 232.36 A55 55 0 0 0 1129.68 238.28 A129.6 129.6 0 0 1 1176.30 229.60 Z" stroke="#000" stroke-width="2.3" fill="none" />
<line x1="1225.44" y1="231.75" x2="1222.92" y2="238.28" stroke="#000" stroke-width="1.8" />
<line x1="1269.8" y1="226.58" x2="1273.75" y2="232.36" stroke="#000" stroke-width="1.8" />
<line x1="1308.74" y1="265.46" x2="1302.96" y2="261.52" stroke="#000" stroke-width="1.8" />
<line x1="1303.66" y1="309.83" x2="1297.14" y2="312.36" stroke="#000" stroke-width="1.8" />
<line x1="1303.66" y1="408.57" x2="1297.14" y2="406.04" stroke="#000" stroke-width="1.8" />
<line x1="1308.74" y1="452.94" x2="1302.96" y2="456.88" stroke="#000" stroke-width="1.8" />
<line x1="1269.8" y1="491.82" x2="1273.75" y2="486.04" stroke="#000" stroke-width="1.8" />
<line x1="1225.44" y1="486.65" x2="1222.92" y2="480.12" stroke="#000" stroke-width="1.8" />
<line x1="1127.16" y1="486.65" x2="1129.68" y2="480.12" stroke="#000" stroke-width="1.8" />
<line x1="1082.8" y1="491.82" x2="1078.85" y2="486.04" stroke="#000" stroke-width="1.8" />
<line x1="1043.86" y1="452.94" x2="1049.64" y2="456.88" stroke="#000" stroke-width="1.8" />
<line x1="1048.94" y1="408.57" x2="1055.46" y2="406.04" stroke="#000" stroke-width="1.8" />
<line x1="1048.94" y1="309.83" x2="1055.46" y2="312.36" stroke="#000" stroke-width="1.8" />
<line x1="1043.86" y1="265.46" x2="1049.64" y2="261.52" stroke="#000" stroke-width="1.8" />
<line x1="1082.8" y1="226.58" x2="1078.85" y2="232.36" stroke="#000" stroke-width="1.8" />
<line x1="1127.16" y1="231.75" x2="1129.68" y2="238.28" stroke="#000" stroke-width="1.8" />
<circle cx="1067.00" cy="249.70" r="12" fill="none" stroke="#000" stroke-width="2.3"/>
<line x1="1047.0" y1="249.5" x2="1087.0" y2="249.5" stroke="#777" stroke-width="1"/>
<line x1="1067.5" y1="229.7" x2="1067.5" y2="269.7" stroke="#777" stroke-width="1"/>
<circle cx="1067.00" cy="468.70" r="12" fill="none" stroke="#000" stroke-width="2.3"/>
<line x1="1047.0" y1="468.5" x2="1087.0" y2="468.5" stroke="#777" stroke-width="1"/>
<line x1="1067.5" y1="448.7" x2="1067.5" y2="488.7" stroke="#777" stroke-width="1"/>
<circle cx="1285.60" cy="249.70" r="12" fill="none" stroke="#000" stroke-width="2.3"/>
<line x1="1265.6" y1="249.5" x2="1305.6" y2="249.5" stroke="#777" stroke-width="1"/>
<line x1="1285.5" y1="229.7" x2="1285.5" y2="269.7" stroke="#777" stroke-width="1"/>
<circle cx="1285.60" cy="468.70" r="12" fill="none" stroke="#000" stroke-width="2.3"/>
<line x1="1265.6" y1="468.5" x2="1305.6" y2="468.5" stroke="#777" stroke-width="1"/>
<line x1="1285.5" y1="448.7" x2="1285.5" y2="488.7" stroke="#777" stroke-width="1"/>
<path d="M1162.50 223.10 L1162.50 257.19 Q1162.50 263.19 1156.59 264.22 A97.0 97.0 0 0 0 1081.32 339.49 Q1080.29 345.40 1074.29 345.40 L1040.20 345.40" stroke="#000" stroke-width="6.4" fill="none" stroke-linejoin="round"/>
<path d="M1162.50 495.30 L1162.50 461.21 Q1162.50 455.21 1156.59 454.18 A97.0 97.0 0 0 1 1081.32 378.91 Q1080.29 373.00 1074.29 373.00 L1040.20 373.00" stroke="#000" stroke-width="6.4" fill="none" stroke-linejoin="round"/>
<path d="M1190.10 223.10 L1190.10 257.19 Q1190.10 263.19 1196.01 264.22 A97.0 97.0 0 0 1 1271.28 339.49 Q1272.31 345.40 1278.31 345.40 L1312.40 345.40" stroke="#000" stroke-width="6.4" fill="none" stroke-linejoin="round"/>
<path d="M1190.10 495.30 L1190.10 461.21 Q1190.10 455.21 1196.01 454.18 A97.0 97.0 0 0 0 1271.28 378.91 Q1272.31 373.00 1278.31 373.00 L1312.40 373.00" stroke="#000" stroke-width="6.4" fill="none" stroke-linejoin="round"/>
<line x1="1032" y1="359.2" x2="1322" y2="359.2" stroke="#707070" stroke-width="1.1" stroke-dasharray="44 5.5 6.5 5"/>
<line x1="1176.3" y1="214" x2="1176.3" y2="502" stroke="#707070" stroke-width="1.1" stroke-dasharray="45 5 6 5.5"/>
<line x1="1314" y1="249.5" x2="1382" y2="249.5" stroke="#707070" stroke-width="1.1"/>
<line x1="1314" y1="468.8" x2="1382" y2="468.8" stroke="#707070" stroke-width="1.1"/>
<line x1="1374.5" y1="249.5" x2="1374.5" y2="468.8" stroke="#707070" stroke-width="1.1"/>
<path d="M1374.50 250.70 Q1377.65 260.60 1377.50 268.70 L1374.50 266.54 L1371.50 268.70 Q1371.35 260.60 1374.50 250.70 Z" fill="#000"/>
<path d="M1374.50 467.60 Q1371.35 457.70 1371.50 449.60 L1374.50 451.76 L1377.50 449.60 Q1377.65 457.70 1374.50 467.60 Z" fill="#000"/>
<line x1="1295" y1="222.5" x2="1433" y2="222.5" stroke="#707070" stroke-width="1.1"/>
<line x1="1297" y1="495.8" x2="1433" y2="495.8" stroke="#707070" stroke-width="1.1"/>
<line x1="1425.5" y1="222.5" x2="1425.5" y2="495.8" stroke="#707070" stroke-width="1.1"/>
<path d="M1425.50 223.70 Q1428.65 233.60 1428.50 241.70 L1425.50 239.54 L1422.50 241.70 Q1422.35 233.60 1425.50 223.70 Z" fill="#000"/>
<path d="M1425.50 494.60 Q1422.35 484.70 1422.50 476.60 L1425.50 478.76 L1428.50 476.60 Q1428.65 484.70 1425.50 494.60 Z" fill="#000"/>
<text x="1364.50" y="363.00" font-size="29" text-anchor="start" textLength="31.10" lengthAdjust="spacingAndGlyphs" transform="rotate(-90 1364.50 363.00) translate(1364.50 363.00) skewX(-7.0) translate(-1364.50 -363.00)" stroke="#fff" stroke-width="0.25"  letter-spacing="2.0">160</text>
<text x="1415.80" y="368.00" font-size="29" text-anchor="start" textLength="39.19" lengthAdjust="spacingAndGlyphs" transform="rotate(-90 1415.80 368.00) translate(1415.80 368.00) skewX(-7.0) translate(-1415.80 -368.00)" stroke="#fff" stroke-width="0.25"  letter-spacing="2.0">200</text>
<rect x="1346" y="371" width="18.5" height="18.5" fill="none" stroke="#000" stroke-width="1.3"/>
<rect x="1397" y="373" width="18.5" height="18.5" fill="none" stroke="#000" stroke-width="1.3"/>
<line x1="931.8" y1="179.4" x2="1007" y2="179.4" stroke="#707070" stroke-width="1.1"/>
<line x1="1038" y1="215.5" x2="1053" y2="233" stroke="#fff" stroke-width="5"/>
<line x1="1007" y1="179.4" x2="1089.5" y2="275.5" stroke="#707070" stroke-width="1.1"/>
<path d="M1057.70 239.30 Q1049.01 233.73 1043.83 227.50 L1047.71 227.72 L1048.07 223.85 Q1053.46 229.89 1057.70 239.30 Z" fill="#000"/>
<path d="M1075.60 260.20 Q1084.29 265.77 1089.47 272.00 L1085.59 271.78 L1085.23 275.65 Q1079.84 269.61 1075.60 260.20 Z" fill="#000"/>
<path d="M943.20 169.80 L956.20 150.80" stroke="#000" stroke-width="1.5"/>
<ellipse cx="949.60" cy="160.40" rx="4.2" ry="6.2" transform="rotate(40 949.60 160.40)" fill="none" stroke="#000" stroke-width="1.5"/>
<text x="957.00" y="169.80" font-size="29" text-anchor="start" textLength="19.41" lengthAdjust="spacingAndGlyphs" transform="translate(957.00 169.80) skewX(-7.0) translate(-957.00 -169.80)" stroke="#fff" stroke-width="0.25"  letter-spacing="2.0">18</text>
<text x="941.10" y="204.80" font-size="29" text-anchor="start" textLength="61.28" lengthAdjust="spacingAndGlyphs" transform="translate(941.10 204.80) skewX(-7.0) translate(-941.10 -204.80)" stroke="#fff" stroke-width="0.25"  letter-spacing="2.0">4 отв.</text>
<text x="1164.20" y="144.50" font-size="54" text-anchor="start" textLength="23.28" lengthAdjust="spacingAndGlyphs" stroke="#fff" stroke-width="0.75" style="font-style:normal">A</text>
</svg>
</body></html>
